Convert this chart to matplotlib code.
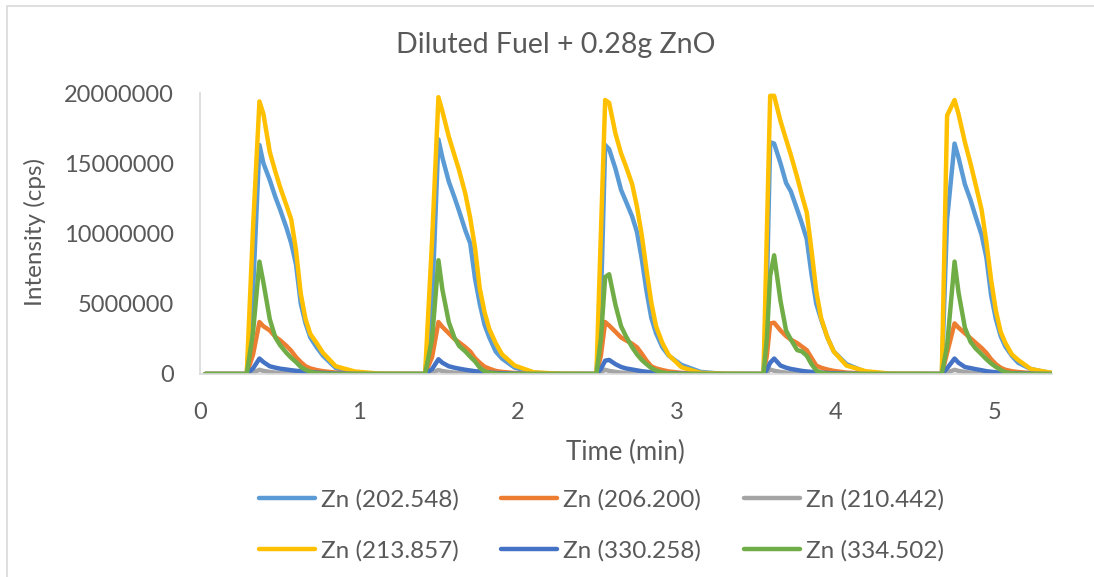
import matplotlib
matplotlib.use("Agg")
import matplotlib.pyplot as plt
from matplotlib.patches import Rectangle
from matplotlib.ticker import FuncFormatter

plt.rcParams['font.family'] = ['Lato', 'DejaVu Sans']

title = "Diluted Fuel + 0.28g ZnO"
x_label = "Time (min)"
y_label = "Intensity (cps)"
series_names = ["Zn (202.548)", "Zn (206.200)", "Zn (210.442)",
                "Zn (213.857)", "Zn (330.258)", "Zn (334.502)"]
series_colors = ["#5B9BD5", "#ED7D31", "#A5A5A5", "#FFC000", "#4472C4", "#70AD47"]
x_ticks = [0, 1, 2, 3, 4, 5]
y_ticks = [0, 5000000, 10000000, 15000000, 20000000]

# time axis (min)
time_min = [
    0.033,
    0.294, 0.334,
    0.374, 0.399, 0.439, 0.474, 0.504, 0.544, 0.574, 0.604, 0.634, 0.664, 0.694, 0.734, 0.774, 0.854, 0.974, 1.124,
    1.416, 1.460,
    1.500, 1.525, 1.565, 1.600, 1.630, 1.670, 1.700, 1.730, 1.760, 1.790, 1.820, 1.860, 1.900, 1.980, 2.100, 2.250,
    2.494, 2.522,
    2.549, 2.574, 2.614, 2.649, 2.679, 2.719, 2.749, 2.779, 2.809, 2.839, 2.869, 2.909, 2.949, 3.029, 3.149, 3.299,
    3.545, 3.566,
    3.587, 3.612, 3.652, 3.687, 3.717, 3.757, 3.787, 3.817, 3.847, 3.877, 3.907, 3.947, 3.987, 4.067, 4.187, 4.337,
    4.667, 4.700,
    4.747, 4.772, 4.812, 4.847, 4.877, 4.917, 4.947, 4.977, 5.007, 5.037, 5.067, 5.107, 5.147, 5.227, 5.347,
    5.360,
]

# intensities in millions of cps
zn_202_548 = [
    0,
    0, 6,
    16.3, 15.0, 13.8, 12.6, 11.7, 10.4, 9.3, 7.8, 5.0, 3.6, 2.6, 1.9, 1.3, 0.42, 0.1, 0,
    0, 5,
    16.7, 15.4, 13.7, 12.6, 11.6, 10.2, 9.3, 6.8, 5.0, 3.5, 2.6, 1.6, 1.1, 0.45, 0.1, 0,
    0, 5,
    16.3, 16.0, 14.6, 13.1, 12.3, 11.2, 10.1, 8.2, 5.9, 4.0, 2.9, 1.9, 1.3, 0.65, 0.15, 0,
    0, 6,
    16.5, 16.4, 15.0, 13.6, 13.0, 11.7, 10.7, 9.6, 7.1, 5.0, 3.9, 2.6, 1.6, 0.7, 0.15, 0,
    0, 11,
    16.4, 15.4, 13.5, 12.4, 11.3, 9.9, 8.3, 5.6, 3.9, 2.7, 1.95, 1.3, 0.8, 0.35, 0.08,
    0.05,
]
zn_206_200 = [
    0,
    0, 1.4,
    3.7, 3.4, 3.1, 2.65, 2.4, 2.0, 1.65, 1.2, 0.85, 0.55, 0.4, 0.28, 0.2, 0.1, 0.03, 0,
    0, 1.2,
    3.7, 3.35, 2.9, 2.5, 2.25, 1.9, 1.6, 1.13, 0.8, 0.52, 0.38, 0.22, 0.15, 0.07, 0.02, 0,
    0, 1.3,
    3.7, 3.45, 3.0, 2.6, 2.4, 2.15, 1.9, 1.45, 0.95, 0.55, 0.4, 0.28, 0.18, 0.08, 0.02, 0,
    0, 1.3,
    3.6, 3.65, 3.1, 2.7, 2.45, 2.2, 1.95, 1.7, 1.15, 0.6, 0.45, 0.32, 0.22, 0.1, 0.03, 0,
    0, 1.5,
    3.6, 3.3, 2.9, 2.55, 2.25, 1.85, 1.5, 1.05, 0.7, 0.45, 0.3, 0.2, 0.14, 0.07, 0.02,
    0.02,
]
zn_210_442 = [
    0,
    0, 0.1,
    0.3, 0.22, 0.15, 0.1, 0.08, 0.06, 0.05, 0.04, 0.03, 0.02, 0.01, 0, 0, 0, 0, 0,
    0, 0.1,
    0.28, 0.21, 0.14, 0.1, 0.08, 0.06, 0.05, 0.04, 0.03, 0.02, 0.01, 0, 0, 0, 0, 0,
    0, 0.1,
    0.3, 0.22, 0.15, 0.1, 0.08, 0.06, 0.05, 0.04, 0.03, 0.02, 0.01, 0, 0, 0, 0, 0,
    0, 0.1,
    0.32, 0.23, 0.15, 0.1, 0.08, 0.06, 0.05, 0.04, 0.03, 0.02, 0.01, 0, 0, 0, 0, 0,
    0, 0.1,
    0.3, 0.22, 0.15, 0.1, 0.08, 0.06, 0.05, 0.04, 0.03, 0.02, 0.01, 0, 0, 0, 0,
    0,
]
zn_213_857 = [
    0,
    0, 10.5,
    19.4, 18.5, 15.8, 14.4, 13.3, 12.0, 11.0, 8.8, 5.7, 3.9, 2.85, 2.2, 1.5, 0.55, 0.18, 0.03,
    0, 9.5,
    19.7, 18.7, 16.9, 15.6, 14.5, 12.8, 11.1, 9.0, 6.1, 4.4, 3.2, 2.2, 1.4, 0.6, 0.12, 0.03,
    0, 10,
    19.5, 19.3, 17.1, 15.7, 14.8, 13.5, 11.9, 9.9, 7.4, 5.1, 3.4, 2.2, 1.35, 0.48, 0.08, 0.02,
    0, 10,
    19.8, 19.8, 18.0, 16.7, 15.6, 14.0, 12.7, 11.5, 8.8, 5.9, 4.0, 2.6, 1.6, 0.6, 0.2, 0.03,
    0, 18.4,
    19.5, 18.5, 16.5, 15.0, 13.6, 11.7, 9.4, 6.7, 4.5, 3.0, 2.2, 1.4, 1.0, 0.35, 0.1,
    0.08,
]
zn_330_258 = [
    0,
    0, 0.4,
    1.1, 0.85, 0.55, 0.45, 0.38, 0.32, 0.27, 0.23, 0.2, 0.17, 0.14, 0.1, 0.07, 0.03, 0.01, 0,
    0, 0.35,
    1.05, 0.8, 0.55, 0.45, 0.38, 0.3, 0.25, 0.2, 0.17, 0.13, 0.1, 0.07, 0.05, 0.02, 0, 0,
    0, 0.35,
    0.95, 1.0, 0.7, 0.5, 0.4, 0.32, 0.26, 0.2, 0.16, 0.12, 0.1, 0.07, 0.05, 0.02, 0, 0,
    0, 0.3,
    0.8, 1.1, 0.6, 0.45, 0.36, 0.28, 0.22, 0.18, 0.15, 0.12, 0.1, 0.07, 0.05, 0.02, 0, 0,
    0, 0.4,
    1.1, 0.8, 0.5, 0.42, 0.35, 0.27, 0.2, 0.16, 0.12, 0.1, 0.08, 0.06, 0.04, 0.02, 0,
    0,
]
zn_334_502 = [
    0,
    0, 3.0,
    8.0, 6.5, 3.9, 2.6, 2.05, 1.5, 1.15, 0.85, 0.5, 0.3, 0.15, 0.06, 0.03, 0, 0, 0,
    0, 2.5,
    8.1, 6.0, 3.7, 2.6, 2.0, 1.6, 1.23, 0.9, 0.45, 0.2, 0.08, 0.03, 0, 0, 0, 0,
    0, 2.5,
    6.9, 7.1, 4.9, 3.4, 2.7, 1.9, 1.4, 1.0, 0.7, 0.42, 0.25, 0.1, 0.04, 0, 0, 0,
    0, 2.5,
    7.0, 8.45, 5.2, 3.1, 2.45, 1.7, 1.6, 1.3, 0.7, 0.25, 0.08, 0.03, 0, 0, 0, 0,
    0, 2.0,
    8.0, 5.8, 3.3, 2.3, 1.85, 1.4, 1.05, 0.75, 0.5, 0.3, 0.12, 0.05, 0.02, 0, 0,
    0,
]

series_values = [zn_202_548, zn_206_200, zn_210_442, zn_213_857, zn_330_258, zn_334_502]

W, H = 1094, 577
fig = plt.figure(figsize=(W / 100, H / 100), dpi=100)
fig.patch.set_facecolor("white")

ax = fig.add_axes([200 / W, 1 - 374 / H, (1052 - 200) / W, (374 - 93) / H])

handles = []
for name, vals, col in zip(series_names, series_values, series_colors):
    (ln,) = ax.plot(time_min, [v * 1e6 for v in vals], color=col, lw=3.2,
                    solid_joinstyle="round", solid_capstyle="round", label=name)
    handles.append(ln)

ax.set_xlim(0, 5.36)
ax.set_ylim(0, 20000000)
ax.set_xticks(x_ticks)
ax.set_yticks(y_ticks)
ax.yaxis.set_major_formatter(FuncFormatter(lambda v, p: f"{int(round(v))}"))
ax.xaxis.set_major_formatter(FuncFormatter(lambda v, p: f"{int(round(v))}"))
ax.tick_params(axis="both", length=0, labelsize=17, colors="#595959")
ax.tick_params(axis="y", pad=19)
ax.tick_params(axis="x", pad=20)
for s in ["top", "right"]:
    ax.spines[s].set_visible(False)
for s in ["left", "bottom"]:
    ax.spines[s].set_color("#D9D9D9")
    ax.spines[s].set_linewidth(1.2)

text_color = "#595959"
fig.text(556 / W, 1 - 45 / H, title, ha="center", va="center", fontsize=20.5, color=text_color)
fig.text(625 / W, 1 - 452 / H, x_label, ha="center", va="center", fontsize=18.5, color=text_color)
fig.text(35 / W, 1 - 232 / H, y_label, ha="center", va="center", rotation=90, fontsize=17.5, color=text_color)

order = [0, 3, 1, 4, 2, 5]
fig.legend([handles[i] for i in order], [series_names[i] for i in order],
           ncol=3, loc="upper left", bbox_to_anchor=(259 / W, 1 - 489 / H),
           frameon=False, fontsize=17.5, labelcolor=text_color,
           handlelength=2.3, handletextpad=0.25, columnspacing=1.75,
           labelspacing=1.2, borderpad=0, borderaxespad=0)

fig.patches.append(Rectangle((7 / W, -0.1), 1.2, 1.1 - 5.5 / H, transform=fig.transFigure,
                             fill=False, ec="#D9D9D9", lw=1.2))

fig.savefig("out.png", dpi=100, facecolor="white")
